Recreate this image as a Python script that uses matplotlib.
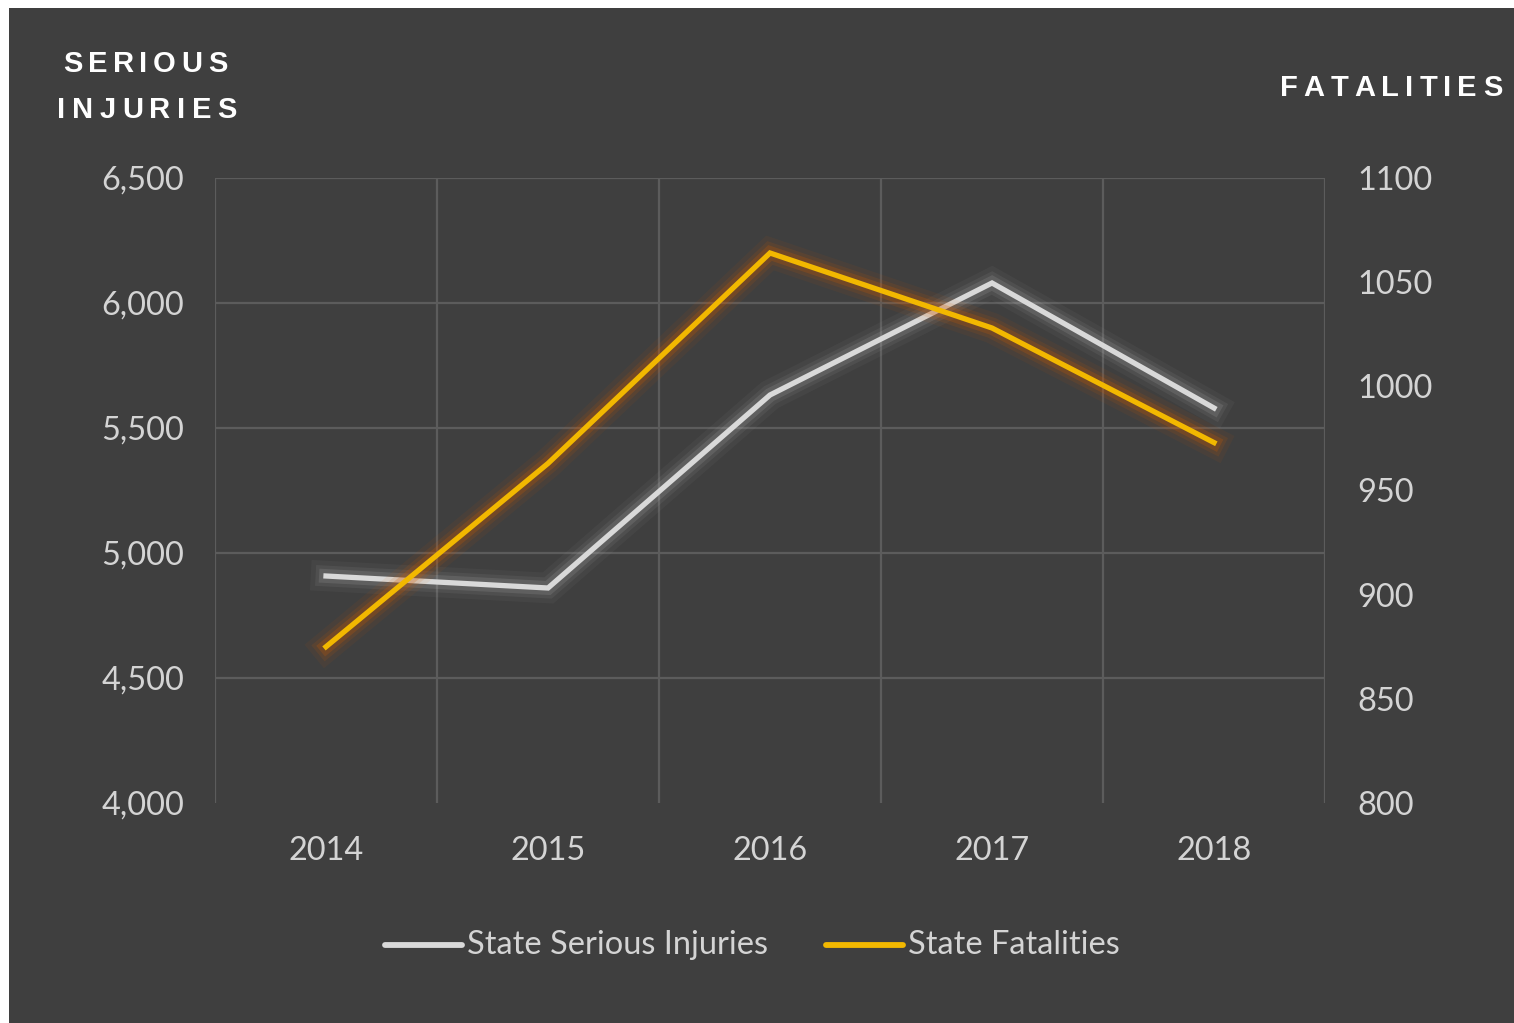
import matplotlib
matplotlib.use("Agg")
import matplotlib.pyplot as plt
import matplotlib.patheffects as pe
from matplotlib.patches import Rectangle

years = ["2014", "2015", "2016", "2017", "2018"]
serious_injuries = [4908, 4860, 5632, 6080, 5580]
fatalities = [875, 963, 1064, 1028, 973]

left_ticks = [4000, 4500, 5000, 5500, 6000, 6500]
right_ticks = [800, 850, 900, 950, 1000, 1050, 1100]

BG = "#3f3f3f"
GRID = "#5c5c5c"
TICK = "#d4d4d4"
GRAY_LINE = "#d9d9d9"
GOLD_LINE = "#f2b800"
FS = 23.4

W, H = 1514, 1023
fig = plt.figure(figsize=(W / 100, H / 100), dpi=100, facecolor="white")
fig.patches.append(Rectangle((9 / W, 0), 1, 1 - 8 / H, transform=fig.transFigure,
                             facecolor=BG, edgecolor="none", zorder=-10))

ax = fig.add_axes([215 / W, 1 - 803 / H, 1110 / W, 625 / H])
ax.set_facecolor("none")
ax2 = ax.twinx()
ax2.set_facecolor("none")

x = list(range(len(years)))
ax.set_xlim(-0.5, len(years) - 0.5)
ax.set_ylim(4000, 6500)
ax2.set_ylim(800, 1100)

# category boundaries carry the vertical gridlines
for b in [i - 0.5 for i in range(len(years) + 1)]:
    ax.axvline(b, color=GRID, lw=1.6, zorder=0)
for t in left_ticks[1:]:
    ax.axhline(t, color=GRID, lw=1.6, zorder=0)

for a in (ax, ax2):
    for s in a.spines.values():
        s.set_visible(False)
    a.tick_params(length=0, colors=TICK)

ax.set_xticks(x)
ax.set_xticklabels(years, fontfamily="Lato", fontsize=FS, color=TICK)
ax.tick_params(axis="x", pad=24)
ax.set_yticks(left_ticks)
ax.set_yticklabels([f"{v:,}" for v in left_ticks], fontfamily="Lato", fontsize=FS, color=TICK)
ax.tick_params(axis="y", pad=22)
ax2.set_yticks(right_ticks)
ax2.set_yticklabels([str(v) for v in right_ticks], fontfamily="Lato", fontsize=FS, color=TICK)
ax2.tick_params(axis="y", pad=23)


def glow(color, a=1.0):
    return [pe.Stroke(linewidth=22, foreground=color, alpha=0.05 * a),
            pe.Stroke(linewidth=15, foreground=color, alpha=0.09 * a),
            pe.Stroke(linewidth=10, foreground=color, alpha=0.16 * a),
            pe.Normal()]


ax.plot(x, serious_injuries, color=GRAY_LINE, lw=3.8, solid_joinstyle="miter",
        path_effects=glow("#b8b8b8"), zorder=3)
ax2.plot(x, fatalities, color=GOLD_LINE, lw=3.8, solid_joinstyle="miter",
         path_effects=glow("#d05a00", 1.4), zorder=3)

# legend drawn by hand so the swatches sit flush against the labels
ly = 1 - 945 / H
for x0, x1, col, txt in [(385, 462, GRAY_LINE, "State Serious Injuries"),
                         (826, 903, GOLD_LINE, "State Fatalities")]:
    fig.add_artist(plt.Line2D([x0 / W, x1 / W], [ly, ly], transform=fig.transFigure,
                              color=col, lw=4.2, solid_capstyle="round"))
    fig.text((x1 + 5) / W, ly, txt, fontfamily="Lato", fontsize=FS, color=TICK,
             va="center", ha="left")

renderer = fig.canvas.get_renderer()


def tracked(cx, cy, s, size, spacing):
    # draw letters one at a time to get the wide letter spacing
    widths = []
    for ch in s:
        t = fig.text(0, 0, ch, fontsize=size, fontweight="bold",
                     fontfamily="Liberation Sans")
        widths.append(t.get_window_extent(renderer).width)
        t.remove()
    total = sum(widths) + spacing * (len(s) - 1)
    px = cx - total / 2
    for ch, w in zip(s, widths):
        fig.text(px / W, 1 - cy / H, ch, fontsize=size, fontweight="bold",
                 fontfamily="Liberation Sans", color="white", va="center", ha="left")
        px += w + spacing


tracked(145, 64, "SERIOUS", 21, 5.5)
tracked(147, 110, "INJURIES", 21, 6.5)
tracked(1391, 88, "FATALITIES", 21, 6.0)

fig.savefig("out.png", dpi=100, facecolor="white")
